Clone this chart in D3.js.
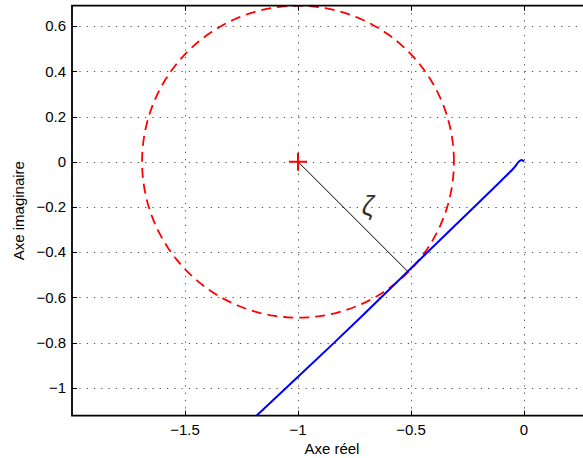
<!DOCTYPE html>
<html><head><meta charset="utf-8">
<script src="https://cdn.jsdelivr.net/npm/d3@7"></script>
<style>
body{margin:0;background:#fff;}
text{font-family:"Liberation Sans",Arial,sans-serif;}
</style></head>
<body><svg id="chart" width="583" height="458"></svg>
<script>
// ---- data ----
const xTicks = [-1.5, -1, -0.5, 0];
const yTicks = [0.6, 0.4, 0.2, 0, -0.2, -0.4, -0.6, -0.8, -1];
const xGrid = [-1.5, -1, -0.5, 0];
const yGrid = [0.6, 0.4, 0.2, 0, -0.2, -0.4, -0.6, -0.8, -1];
const circleCenter = [-1, 0];
const circleRadius = 0.69;
const tangentPoint = [-0.512, -0.488];
const nyquistRe = [0, -0.005, -0.011, -0.017, -0.025, -0.045, -0.1, -0.217, -0.408, -0.519, -0.75, -1, -1.19];
const nyquistIm = [0, 0.005, 0.007, 0.005, -0.002, -0.028, -0.083, -0.197, -0.382, -0.49, -0.715, -0.952, -1.13];
const xLabel = "Axe réel";
const yLabel = "Axe imaginaire";
const zetaLabel = "ζ";

// ---- layout ----
const svg = d3.select("#chart");
const mLeft = 72, mTop = 5.7, mBottom = 415.7;
const x = d3.scaleLinear().domain([-2, 0.3]).range([mLeft, mLeft + 2.3 * 226]);
const y = d3.scaleLinear().domain([-1.1239, 0.6903]).range([mBottom, mTop]);
const mRight = x(0.3);

svg.append("defs").append("clipPath").attr("id", "clip")
  .append("rect").attr("x", mLeft).attr("y", mTop).attr("width", mRight - mLeft).attr("height", mBottom - mTop);

// grid
const grid = svg.append("g").attr("stroke", "#555").attr("stroke-width", 1).attr("stroke-dasharray", "1.3,6");
grid.selectAll(".vg").data(xGrid).enter().append("line")
  .attr("x1", d => Math.round(x(d)) + 0.5).attr("x2", d => Math.round(x(d)) + 0.5)
  .attr("y1", mTop).attr("y2", mBottom);
grid.selectAll(".hg").data(yGrid).enter().append("line")
  .attr("y1", d => Math.round(y(d)) + 0.5).attr("y2", d => Math.round(y(d)) + 0.5)
  .attr("x1", mLeft).attr("x2", mRight);

const plot = svg.append("g").attr("clip-path", "url(#clip)");

// circle (dashed red)
const circ = d3.range(0, 361, 2).map(a => [circleCenter[0] + circleRadius * Math.cos(a * Math.PI / 180),
                                              circleCenter[1] + circleRadius * Math.sin(a * Math.PI / 180)]);
const line = d3.line().x(d => x(d[0])).y(d => y(d[1]));
plot.append("path").datum(circ).attr("d", line)
  .attr("fill", "none").attr("stroke", "#ff0000").attr("stroke-width", 1.8).attr("stroke-dasharray", "10,6");

// radius line
plot.append("line")
  .attr("x1", x(circleCenter[0])).attr("y1", y(circleCenter[1]))
  .attr("x2", x(tangentPoint[0])).attr("y2", y(tangentPoint[1]))
  .attr("stroke", "#000").attr("stroke-width", 1);

// nyquist curve
const ny = nyquistRe.map((r, i) => [r, nyquistIm[i]]);
plot.append("path").datum(ny).attr("d", d3.line().x(d => x(d[0])).y(d => y(d[1])).curve(d3.curveCatmullRom))
  .attr("fill", "none").attr("stroke", "#0000ff").attr("stroke-width", 2);

// center cross
const cx = x(circleCenter[0]), cy = y(circleCenter[1]);
plot.append("path").attr("d", `M${cx - 9},${cy}H${cx + 9}M${cx},${cy - 9}V${cy + 9}`)
  .attr("stroke", "#ff0000").attr("stroke-width", 2);

// zeta
svg.append("text").attr("x", x(-0.69)).attr("y", y(-0.2) + 8)
  .attr("text-anchor", "middle").attr("font-family", "Liberation Serif, serif").attr("font-style", "italic")
  .attr("font-size", 27).attr("fill", "#333").text(zetaLabel);

// axes box
svg.append("path").attr("d", `M${mRight},${mTop}H${mLeft}V${mBottom}H${mRight}`)
  .attr("fill", "none").attr("stroke", "#000").attr("stroke-width", 1.8);

// ticks (inward)
const tk = svg.append("g").attr("stroke", "#000").attr("stroke-width", 1);
xTicks.forEach(d => {
  const px = Math.round(x(d)) + 0.5;
  tk.append("line").attr("x1", px).attr("x2", px).attr("y1", mBottom).attr("y2", mBottom - 5);
  tk.append("line").attr("x1", px).attr("x2", px).attr("y1", mTop).attr("y2", mTop + 5);
});
yTicks.forEach(d => {
  const py = Math.round(y(d)) + 0.5;
  tk.append("line").attr("x1", mLeft).attr("x2", mLeft + 5).attr("y1", py).attr("y2", py);
});

// tick labels
const fmt = v => (v < 0 ? "\u2212" : "") + String(Math.abs(v));
svg.append("g").selectAll("text").data(xTicks).enter().append("text")
  .attr("x", d => x(d)).attr("y", 435).attr("text-anchor", "middle").attr("font-size", 15).text(fmt);
svg.append("g").selectAll("text").data(yTicks).enter().append("text")
  .attr("x", 66).attr("y", d => y(d) + 5.3).attr("text-anchor", "end").attr("font-size", 15).text(fmt);

// axis labels
svg.append("text").attr("x", (mLeft + mRight) / 2).attr("y", 454).attr("text-anchor", "middle")
  .attr("font-size", 15).text(xLabel);
svg.append("text").attr("transform", `translate(24,${(mTop + mBottom) / 2}) rotate(-90)`)
  .attr("text-anchor", "middle").attr("font-size", 15).text(yLabel);
</script></body></html>
